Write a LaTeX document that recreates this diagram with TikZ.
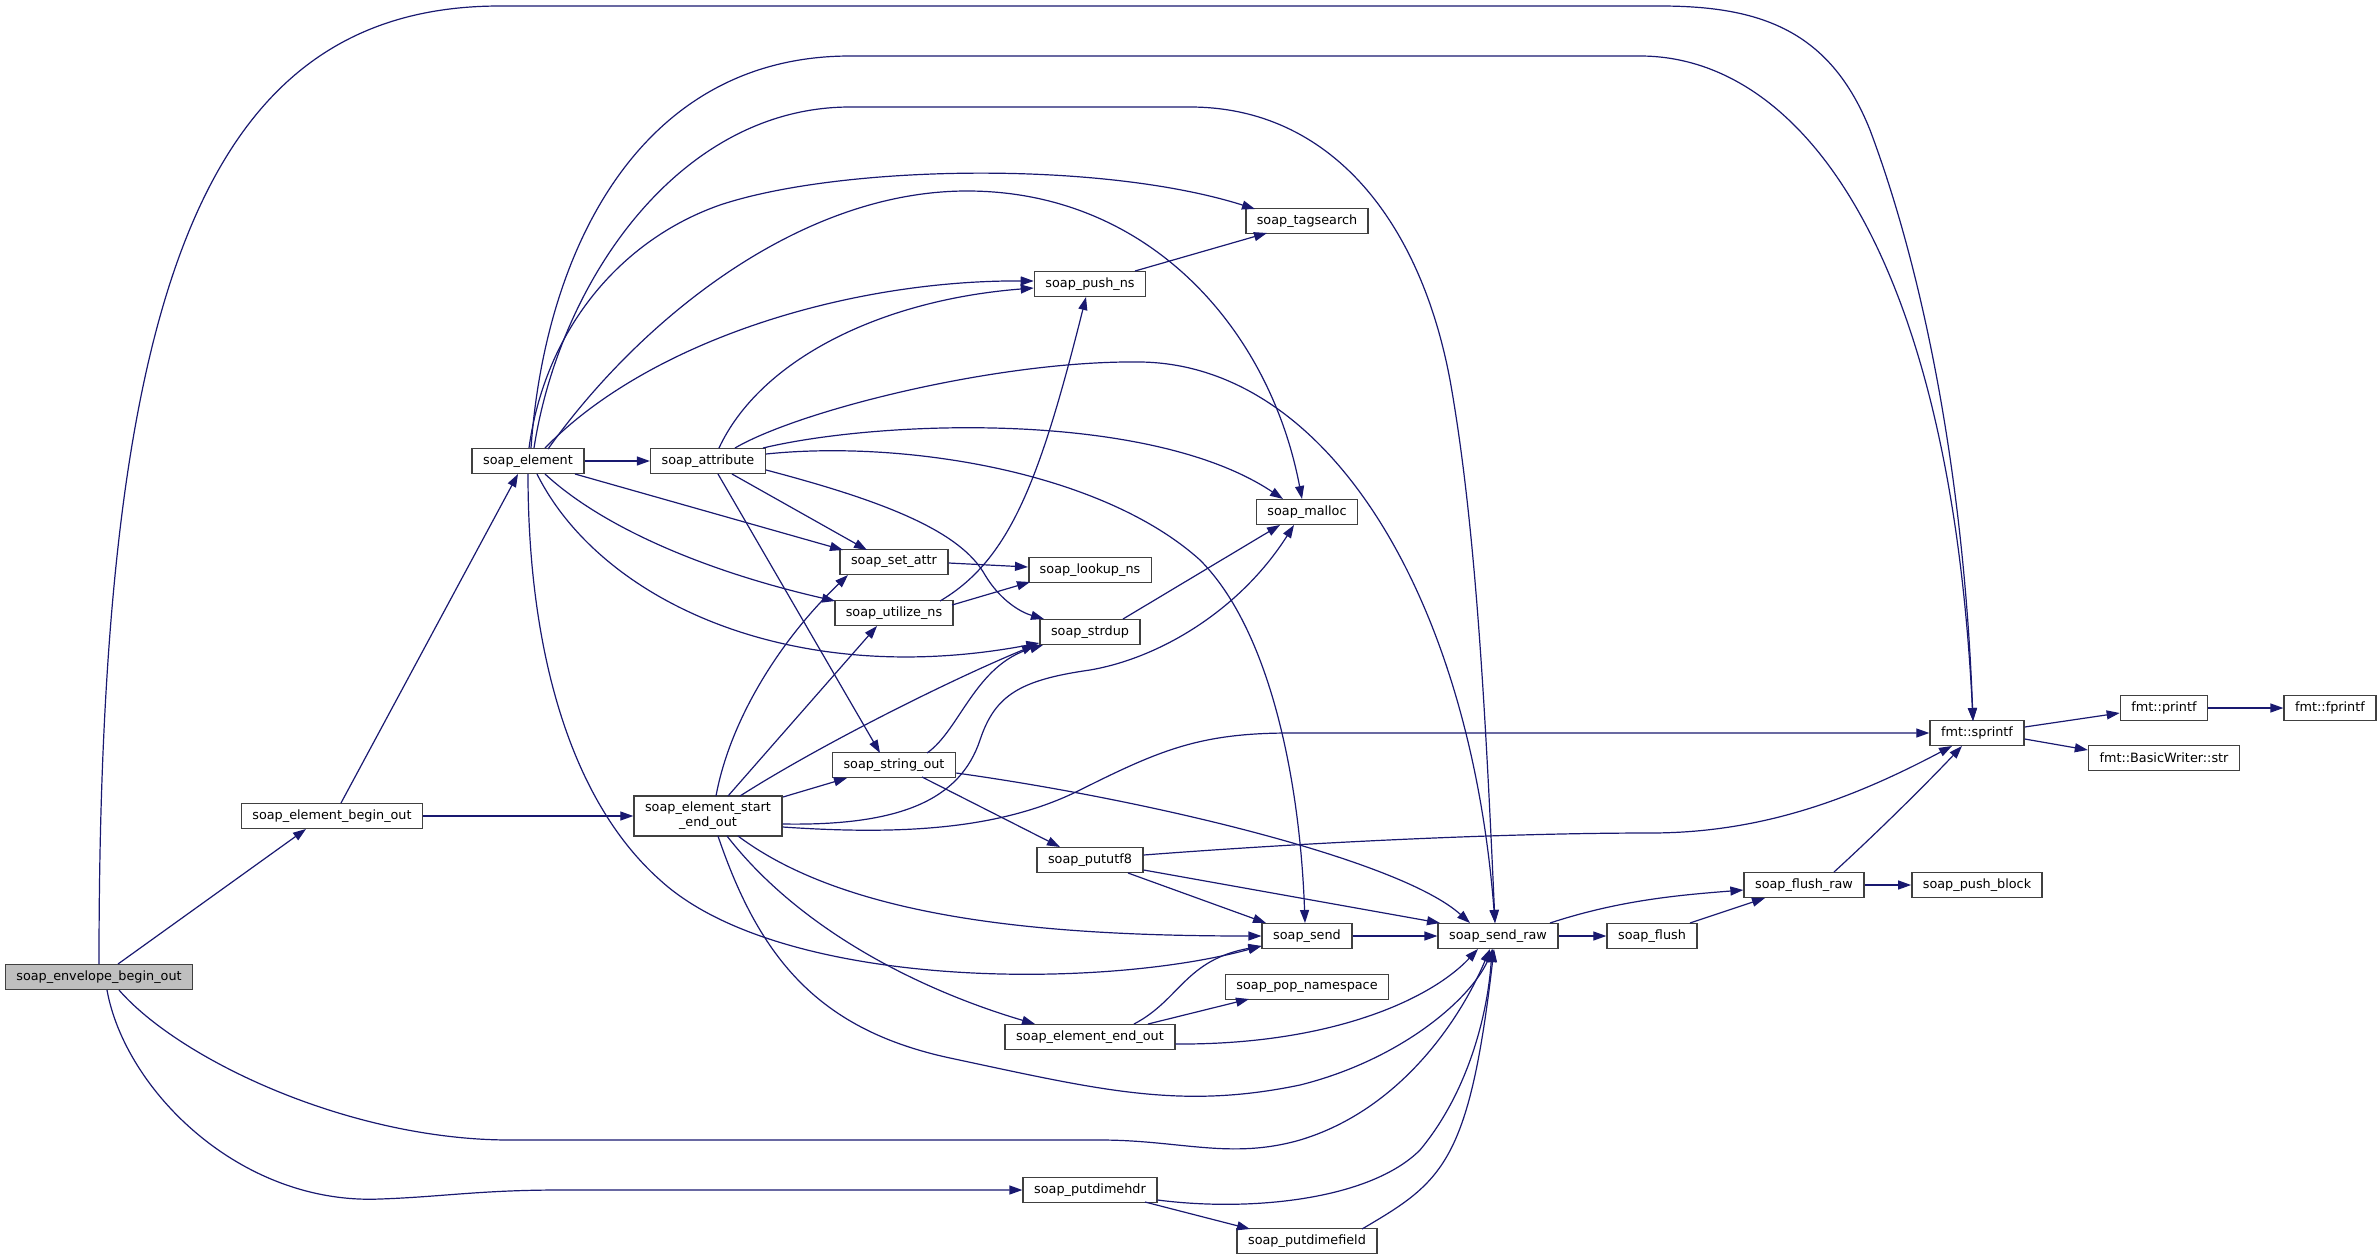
\documentclass[tikz,border=0pt]{standalone}
\usepackage{fontspec}
\newfontfamily\dejavu{DejaVu Sans}
\usetikzlibrary{arrows.meta,calc}
\definecolor{edgec}{HTML}{191970}
\definecolor{boxc}{HTML}{404040}
\definecolor{rootc}{HTML}{BFBFBF}
\tikzset{
  func/.style={draw=boxc, line width=1.5pt, fill=white, font={\dejavu\fontsize{12.8pt}{15pt}\selectfont},
    inner xsep=11pt, inner ysep=0pt, minimum height=25pt},
  rootfunc/.style={func, fill=rootc},
  edg/.style={draw=edgec, line width=1.2pt, -{Triangle[length=13pt,width=9pt]}},
}
\begin{document}
\begin{tikzpicture}[x=1pt,y=-1pt]
\useasboundingbox (0,0) rectangle (2380,1259);
% nodes
\node[rootfunc] (env) at (99,977) {soap\_envelope\_begin\_out};
\node[func] (ebo) at (332,816) {soap\_element\_begin\_out};
\node[func] (el) at (528,461) {soap\_element};
\node[func] (att) at (708,461) {soap\_attribute};
\node[func, align=center, minimum height=40pt] (seo) at (708,816) {soap\_element\_start\\\_end\_out};
\node[func] (tag) at (1307,221) {soap\_tagsearch};
\node[func] (push) at (1090,284) {soap\_push\_ns};
\node[func] (mal) at (1307,512) {soap\_malloc};
\node[func] (sattr) at (894,562) {soap\_set\_attr};
\node[func] (look) at (1090,570) {soap\_lookup\_ns};
\node[func] (util) at (894,613) {soap\_utilize\_ns};
\node[func] (strd) at (1090,632) {soap\_strdup};
\node[func] (sout) at (894,765) {soap\_string\_out};
\node[func] (utf) at (1090,860) {soap\_pututf8};
\node[func] (send) at (1307,936) {soap\_send};
\node[func] (pop) at (1307,987) {soap\_pop\_namespace};
\node[func] (eeo) at (1090,1037) {soap\_element\_end\_out};
\node[func] (pdh) at (1090,1190) {soap\_putdimehdr};
\node[func] (pdf) at (1307,1241) {soap\_putdimefield};
\node[func] (raw) at (1498,936) {soap\_send\_raw};
\node[func] (flush) at (1652,936) {soap\_flush};
\node[func] (fraw) at (1804,885) {soap\_flush\_raw};
\node[func] (pblk) at (1977,885) {soap\_push\_block};
\node[func] (spr) at (1977,733) {fmt::sprintf};
\node[func] (prf) at (2164,708) {fmt::printf};
\node[func] (fprf) at (2330,708) {fmt::fprintf};
\node[func] (bws) at (2164,758) {fmt::BasicWriter::str};
% envelope
\draw[edg] ($(env)+(19,-13)$) -- ($(ebo)+(-26,13)$);
\draw[edg] ($(env)+(0,-13)$) .. controls (99,300) and (200,6) .. (500,6) -- (1660,6) .. controls (1760,6) and (1830,30) .. (1870,130) .. controls (1930,290) and (1965,500) .. ($(spr)+(-4,-12)$);
\draw[edg] ($(env)+(20,13)$) .. controls (180,1060) and (350,1140) .. (510,1140) -- (1100,1140) .. controls (1180,1140) and (1230,1160) .. (1300,1140) .. controls (1400,1110) and (1460,1020) .. ($(raw)+(-8,13)$);
\draw[edg] ($(env)+(8,13)$) .. controls (125,1090) and (240,1205) .. (380,1199) .. controls (440,1197) and (480,1190) .. (560,1190) -- (pdh.west);
% element_begin_out
\draw[edg] ($(ebo)+(9,-13)$) -- ($(el)+(-10,13)$);
\draw[edg] (ebo.east) -- (seo.west);
% soap_element
\draw[edg] (el.east) -- (att.west);
\draw[edg] ($(el)+(3,-13)$) .. controls (545,250) and (640,56) .. (850,56) -- (1640,56) .. controls (1800,56) and (1950,250) .. ($(spr)+(-4,-12)$);
\draw[edg] ($(el)+(6,-13)$) .. controls (560,280) and (680,107) .. (850,107) -- (1190,107) .. controls (1330,107) and (1420,220) .. (1450,380) .. controls (1475,520) and (1485,700) .. ($(raw)+(-3,-13)$);
\draw[edg] ($(el)+(1,-13)$) .. controls (545,330) and (620,240) .. (720,205) .. controls (840,165) and (1100,160) .. ($(tag)+(-52,-12)$);
\draw[edg] ($(el)+(20,-12)$) .. controls (640,320) and (800,190) .. (969,191) .. controls (1150,192) and (1270,330) .. ($(mal)+(-5,-13)$);
\draw[edg] ($(el)+(17,-13)$) .. controls (650,340) and (850,280) .. ($(push.west)+(0,-3)$);
\draw[edg] ($(el)+(47,13)$) -- ($(sattr)+(-51,-12)$);
\draw[edg] ($(el)+(17,13)$) .. controls (600,525) and (700,570) .. ($(util)+(-59,-12)$);
\draw[edg] ($(el)+(9,13)$) .. controls (600,600) and (790,690) .. ($(strd.west)+(0,11)$);
\draw[edg] ($(el)+(0,13)$) .. controls (528,650) and (570,800) .. (660,880) .. controls (780,990) and (1100,990) .. ($(send.west)+(0,10)$);
% soap_attribute
\draw[edg] ($(att)+(11,-13)$) .. controls (760,360) and (880,300) .. ($(push.west)+(0,4)$);
\draw[edg] ($(att)+(27,-13)$) .. controls (800,410) and (1000,360) .. (1141,362) .. controls (1330,365) and (1470,600) .. ($(raw)+(-3,-13)$);
\draw[edg] ($(att)+(55,-13)$) .. controls (880,420) and (1150,410) .. ($(mal)+(-24,-13)$);
\draw[edg] ($(att.east)+(0,-7)$) .. controls (900,440) and (1100,470) .. (1200,560) .. controls (1270,630) and (1300,780) .. ($(send)+(-2,-13)$);
\draw[edg] ($(att.east)+(0,9)$) .. controls (880,500) and (960,530) .. (985,575) .. controls (1000,600) and (1020,612) .. ($(strd)+(-46,-13)$);
\draw[edg] ($(att)+(24,13)$) -- ($(sattr)+(-27,-12)$);
\draw[edg] ($(att)+(10,13)$) -- ($(sout)+(-14,-12)$);
% soap_element_start_end_out
\draw[edg] ($(seo)+(8,-20)$) .. controls (730,720) and (780,640) .. ($(sattr)+(-46,13)$);
\draw[edg] ($(seo)+(20,-20)$) -- ($(util)+(-17,13)$);
\draw[edg] ($(seo)+(32,-20)$) .. controls (820,745) and (950,680) .. ($(strd)+(-55,13)$);
\draw[edg] ($(seo)+(75,-19)$) -- ($(sout)+(-47,13)$);
\draw[edg] ($(seo.east)+(0,8)$) .. controls (900,826) and (960,800) .. (980,740) .. controls (995,695) and (1020,680) .. (1090,670) .. controls (1160,658) and (1240,610) .. ($(mal)+(-13,13)$);
\draw[edg] ($(seo.east)+(0,11)$) .. controls (900,835) and (1000,830) .. (1080,790) .. controls (1160,750) and (1200,733) .. (1290,733) -- (spr.west);
\draw[edg] ($(seo)+(30,20)$) .. controls (850,920) and (1050,936) .. (send.west);
\draw[edg] ($(seo)+(19,20)$) .. controls (800,930) and (920,990) .. ($(eeo)+(-55,-13)$);
\draw[edg] ($(seo)+(10,20)$) .. controls (760,960) and (820,1030) .. (950,1058) .. controls (1100,1090) and (1180,1110) .. (1300,1085) .. controls (1400,1060) and (1470,1000) .. ($(raw)+(-5,13)$);
% soap_string_out
\draw[edg] ($(sout)+(33,-12)$) .. controls (960,730) and (975,665) .. ($(strd)+(-47,13)$);
\draw[edg] ($(sout)+(28,12)$) -- ($(utf)+(-30,-13)$);
\draw[edg] ($(sout.east)+(0,8)$) .. controls (1150,800) and (1400,860) .. ($(raw)+(-28,-13)$);
% soap_utilize_ns / soap_set_attr
\draw[edg] ($(util)+(46,-12)$) .. controls (1010,560) and (1040,480) .. ($(push)+(-4,13)$);
\draw[edg] ($(util)+(58,-8)$) -- ($(look)+(-60,12)$);
\draw[edg] ($(sattr.east)+(0,1)$) -- ($(look.west)+(0,-3)$);
% push_ns, strdup
\draw[edg] ($(push)+(45,-13)$) -- ($(tag)+(-40,12)$);
\draw[edg] ($(strd)+(33,-13)$) -- ($(mal)+(-27,13)$);
% soap_pututf8
\draw[edg] ($(utf.east)+(0,-5)$) .. controls (1300,843) and (1500,833) .. (1650,833) .. controls (1760,833) and (1850,800) .. ($(spr)+(-25,13)$);
\draw[edg] ($(utf)+(38,13)$) -- ($(send)+(-41,-13)$);
\draw[edg] ($(utf.east)+(0,10)$) -- ($(raw)+(-58,-13)$);
% soap_send
\draw[edg] (send.east) -- (raw.west);
% soap_element_end_out
\draw[edg] ($(eeo)+(44,-13)$) .. controls (1180,1000) and (1185,960) .. ($(send.west)+(0,10)$);
\draw[edg] ($(eeo)+(58,-13)$) -- ($(pop)+(-58,12)$);
\draw[edg] ($(eeo.east)+(0,7)$) .. controls (1330,1045) and (1430,1000) .. ($(raw)+(-20,13)$);
% dime
\draw[edg] ($(pdh.east)+(0,10)$) .. controls (1250,1212) and (1370,1200) .. (1420,1150) .. controls (1470,1090) and (1488,1010) .. ($(raw)+(-6,13)$);
\draw[edg] ($(pdh)+(55,12)$) -- ($(pdf)+(-57,-12)$);
\draw[edg] ($(pdf)+(55,-12)$) .. controls (1442,1182) and (1469,1164) .. ($(raw)+(-4,13)$);
% send_raw and on
\draw[edg] (raw.east) -- (flush.west);
\draw[edg] ($(raw)+(52,-13)$) .. controls (1620,900) and (1680,895) .. ($(fraw.west)+(0,5)$);
\draw[edg] ($(flush)+(38,-13)$) -- ($(fraw)+(-39,13)$);
\draw[edg] ($(fraw)+(30,-13)$) .. controls (1880,830) and (1930,780) .. ($(spr)+(-15,13)$);
\draw[edg] (fraw.east) -- (pblk.west);
\draw[edg] ($(spr.east)+(0,-6)$) -- ($(prf.west)+(0,5)$);
\draw[edg] ($(spr.east)+(0,6)$) -- ($(bws.west)+(0,-8)$);
\draw[edg] (prf.east) -- (fprf.west);
\end{tikzpicture}
\end{document}
